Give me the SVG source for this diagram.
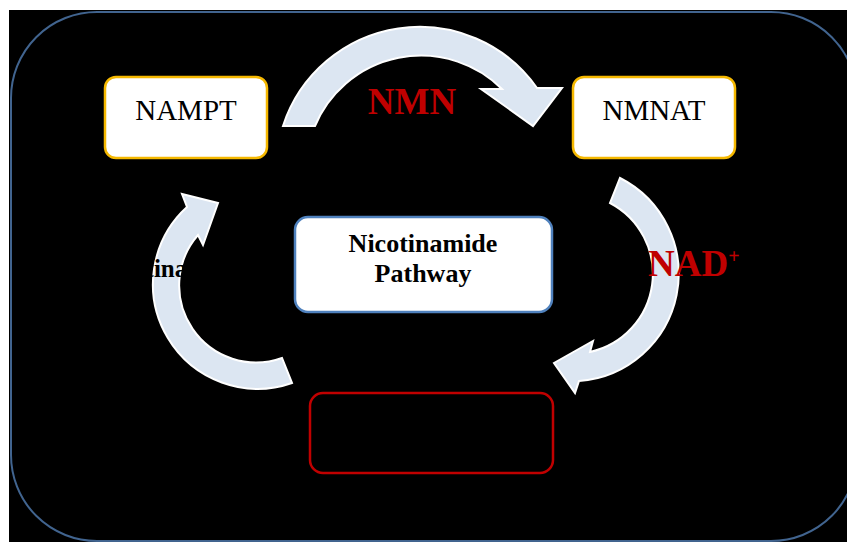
<svg xmlns="http://www.w3.org/2000/svg" width="847" height="542" viewBox="0 0 847 542">
<style>
.enz{fill:#ffffff;stroke:#f5b800;stroke-width:2.5}
.enzt{font-family:"Liberation Serif",serif;font-size:29px;fill:#000;text-anchor:middle}
.arr{fill:#dce6f2;stroke:#ffffff;stroke-width:2;stroke-linejoin:miter}
.red{font-family:"Liberation Serif",serif;font-size:37px;font-weight:bold;fill:#c00000}
.mid{font-family:"Liberation Serif",serif;font-size:26px;font-weight:bold;fill:#000;text-anchor:middle}
</style>
<rect x="0" y="0" width="847" height="542" fill="#ffffff"/>
<rect x="9" y="10" width="838" height="532" fill="#000000"/>
<rect x="11" y="12" width="846" height="529" rx="86" fill="none" stroke="#41648f" stroke-width="2"/>
<g id="connectors">
<path class="arr" d="M 283,126 A 143.5 143.5 0 0 1 537,88 L 562,88 L 533,126 L 481,89 L 502,89 A 115 115 0 0 0 315,126 Z"/>
<path class="arr" d="M 620,178 A 107.5 107.5 0 0 1 579,381 L 575,393 L 554,363 L 593,341 L 590,352 A 80 80 0 0 0 610,203 Z"/>
<path class="arr" d="M 292,383 A 104.6 104.6 0 0 1 187,207 L 182,194 L 218,203 L 203,245 L 198,235 A 77 77 0 0 0 282,358 Z"/>
<text class="red" x="412" y="114" text-anchor="middle">NMN</text>
<text class="red" x="648" y="276">NAD<tspan dy="-13" font-size="20">+</tspan></text>
<text x="97" y="277" font-family="Liberation Serif, serif" font-size="25" font-weight="bold" fill="#000">Nicotinamide</text>
</g>
<g id="nampt">
<rect class="enz" x="105" y="77" width="162" height="81" rx="11"/>
<text class="enzt" x="186" y="120">NAMPT</text>
</g>
<g id="nmnat">
<rect class="enz" x="573" y="77" width="162" height="81" rx="11"/>
<text class="enzt" x="654" y="120">NMNAT</text>
</g>
<g id="pathway">
<rect x="295" y="217" width="257" height="95" rx="13" fill="#ffffff" stroke="#4f81bd" stroke-width="2.5"/>
<text class="mid" x="423" y="252">Nicotinamide</text>
<text class="mid" x="423" y="282">Pathway</text>
</g>
<g id="empty-box">
<rect x="310" y="393" width="243" height="80" rx="13" fill="none" stroke="#c00000" stroke-width="2.5"/>
</g>
</svg>
